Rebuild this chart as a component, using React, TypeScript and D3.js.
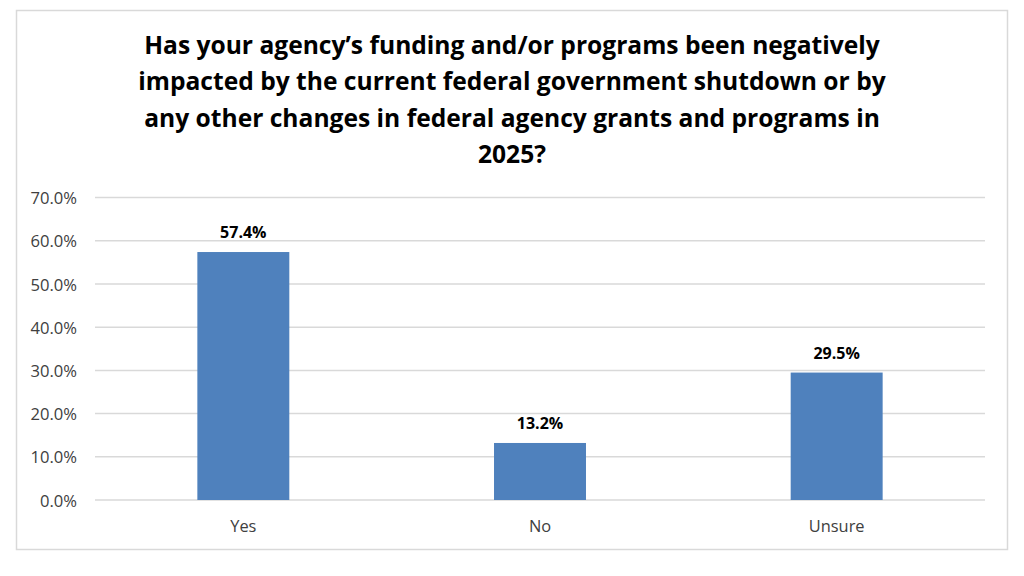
import React from "react";
import * as d3 from "d3";

const categories = ["Yes", "No", "Unsure"];
const values = [57.4, 13.2, 29.5];
const yTicks = [0, 10, 20, 30, 40, 50, 60, 70];
const titleLines = [
  "Has your agency\u2019s funding and/or programs been negatively",
  "impacted by the current federal government shutdown or by",
  "any other changes in federal agency grants and programs in",
  "2025?",
];

const W = 1024;
const H = 576;
const plot = { left: 95, right: 985, top: 197.6, bottom: 500 };
const FONT = "'Open Sans', Lato, sans-serif";

export default function App() {
  const x = d3
    .scaleBand<string>()
    .domain(categories)
    .range([plot.left, plot.right])
    .paddingInner(0.69)
    .paddingOuter(0.345);
  const y = d3.scaleLinear().domain([0, 70]).range([plot.bottom, plot.top]);

  return (
    <svg
      width={W}
      height={H}
      style={{ position: "fixed", left: 0, top: 0, background: "#fff" }}
    >
      <rect x={0} y={0} width={W} height={H} fill="#fff" />
      <rect x={16.5} y={10.5} width={991} height={539} fill="#fff" stroke="#d9d9d9" strokeWidth={1.5} />
      {titleLines.map((t, i) => (
        <text
          key={i}
          x={512}
          y={53.5 + i * 36.6}
          textAnchor="middle"
          fontFamily={FONT}
          fontWeight={700}
          fontSize={24.6}
          fill="#000"
        >
          {t}
        </text>
      ))}
      {yTicks.map((t) => (
        <g key={t}>
          <line x1={plot.left} x2={plot.right} y1={y(t)} y2={y(t)} stroke="#d9d9d9" strokeWidth={1.5} />
          <text
            x={77}
            y={y(t) + 6.5}
            textAnchor="end"
            fontFamily={FONT}
            fontSize={16.6}
            fill="#404040"
          >
            {d3.format(".1f")(t) + "%"}
          </text>
        </g>
      ))}
      {categories.map((c, i) => (
        <g key={c}>
          <rect
            x={x(c)}
            y={y(values[i])}
            width={x.bandwidth()}
            height={y(0) - y(values[i])}
            fill="#4f81bd"
          />
          <text
            x={(x(c) as number) + x.bandwidth() / 2}
            y={y(values[i]) - 14}
            textAnchor="middle"
            fontFamily={FONT}
            fontWeight={700}
            fontSize={16}
            fill="#000"
          >
            {d3.format(".1f")(values[i]) + "%"}
          </text>
          <text
            x={(x(c) as number) + x.bandwidth() / 2}
            y={532}
            textAnchor="middle"
            fontFamily={FONT}
            fontSize={16.4}
            fill="#404040"
          >
            {c}
          </text>
        </g>
      ))}
    </svg>
  );
}
